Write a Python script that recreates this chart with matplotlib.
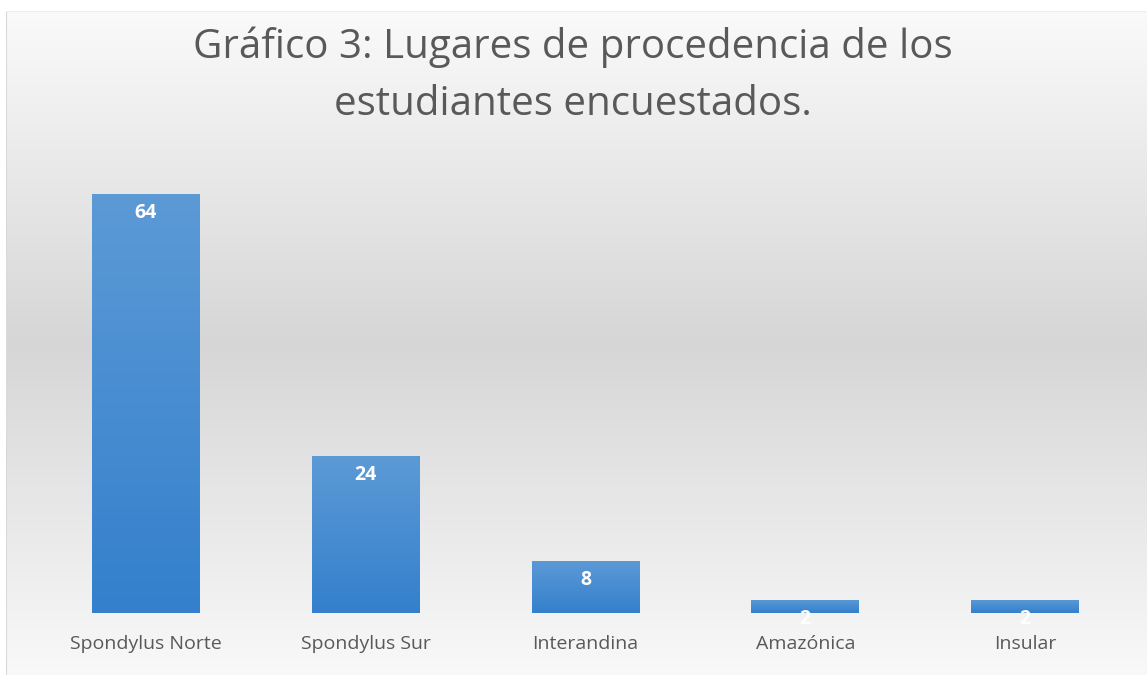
import numpy as np
import matplotlib.pyplot as plt
from matplotlib.colors import LinearSegmentedColormap

# datos
categorias = ["Spondylus Norte", "Spondylus Sur", "Interandina", "Amazónica", "Insular"]
valores = [64, 24, 8, 2, 2]
titulo = "Gráfico 3: Lugares de procedencia de los\nestudiantes encuestados."

fuente = "Open Sans"

W, H = 11.47, 6.75
fig = plt.figure(figsize=(W, H), dpi=100)
fig.patch.set_facecolor("white")

# fondo con degradado (blanco arriba, gris al centro, blanco abajo)
bg = fig.add_axes([6/1147, 0, 1 - 6/1147, 1 - 11/675])
bg.set_axis_off()
t = np.linspace(0, 1, 300)
pico = 0.5
niv = np.where(t < pico, 0.98 - (0.98 - 0.84) * (t / pico),
               0.84 + (0.975 - 0.84) * ((t - pico) / (1 - pico)))
grad = np.repeat(niv[:, None], 2, axis=1)
bg.imshow(np.dstack([grad, grad, grad]), aspect="auto", extent=[0, 1, 0, 1],
          origin="upper", interpolation="bicubic")
bg.set_xlim(0, 1)
bg.set_ylim(0, 1)
bg.plot([0, 0], [0, 1], color="#d9d9d9", lw=1.5)
bg.plot([0, 1], [1, 1], color="#eeeeee", lw=1.5)

# ejes de las barras
x0, x1 = 36/1147, 1135/1147
y0, y1 = 1 - 613/675, 1 - 194/675
ax = fig.add_axes([x0, y0, x1 - x0, y1 - y0])
ax.set_facecolor("none")
for s in ax.spines.values():
    s.set_visible(False)
ax.set_yticks([])
ax.set_xticks(range(len(categorias)))
ax.set_xticklabels(categorias, fontsize=14, color="#595959", family=fuente)
ax.tick_params(axis="x", length=0, pad=16)

cmap = LinearSegmentedColormap.from_list("azul", ["#3480cc", "#5c9ad6"])
barras = ax.bar(range(len(categorias)), valores, width=0.49, color="#4a8ed2")
gv = np.linspace(0, 1, 100)[:, None]
for b, v in zip(barras, valores):
    xb = b.get_x()
    im = ax.imshow(gv, cmap=cmap, aspect="auto", origin="lower",
                   extent=[xb, xb + b.get_width(), 0, v], zorder=2)
    im.set_clip_path(b)
    ax.text(b.get_x() + b.get_width() / 2, v - 1.4, str(v), ha="center", va="top",
            color="white", fontsize=14, fontweight="bold", zorder=3,
            family=fuente)
ax.set_xlim(-0.5, len(categorias) - 0.5)
ax.set_ylim(0, 64)

fig.text(573/1147, 1 - 76/675, titulo, ha="center", va="center", fontsize=29,
         color="#595959", family=fuente, linespacing=1.55)

fig.savefig("out.png", dpi=100)
